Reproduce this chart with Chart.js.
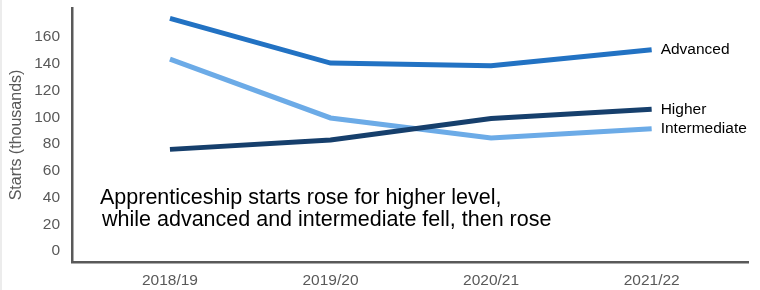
<!DOCTYPE html>
<html>
<head>
<meta charset="utf-8">
<script src="https://cdn.jsdelivr.net/npm/chart.js@4.4.1/dist/chart.umd.min.js"></script>
<style>
  html, body { margin: 0; padding: 0; background: #fff; }
  #wrap { position: relative; width: 760px; height: 290px; border-left: 2px solid #ececec; box-sizing: border-box; }
</style>
</head>
<body>
<div id="wrap"><canvas id="grafico" width="758" height="290"></canvas></div>
<script>
// Dados do gráfico (milhares de inícios)
const anos = ["2018/19", "2019/20", "2020/21", "2021/22"];
const advanced = [174, 140.5, 138.5, 150.5];
const higher = [76, 83, 99, 106];
const intermediate = [143.5, 99.5, 84.5, 91.5];
const yTicks = [0, 20, 40, 60, 80, 100, 120, 140, 160];
const nota = [
  "Apprenticeship starts rose for higher level,",
  "while advanced and intermediate fell, then rose",
];

const fonte = "'Liberation Sans', Arial, sans-serif";

function serie(label, valores, cor) {
  return {
    label: label,
    data: valores.map((v, i) => ({ x: i, y: v })),
    borderColor: cor,
    backgroundColor: cor,
    borderWidth: 5,
    pointRadius: 0,
    tension: 0,
  };
}

// Rótulos no fim de cada linha e o texto de nota
const rotulosPlugin = {
  id: "rotulos",
  afterDatasetsDraw(chart) {
    const ctx = chart.ctx;
    ctx.save();
    ctx.fillStyle = "#000";
    ctx.font = "15.5px " + fonte;
    ctx.textBaseline = "middle";
    ctx.textAlign = "left";
    chart.data.datasets.forEach((ds, i) => {
      const meta = chart.getDatasetMeta(i);
      const ultimo = meta.data[meta.data.length - 1];
      ctx.fillText(ds.label, ultimo.x + 9, ultimo.y);
    });
    ctx.font = "21.5px " + fonte;
    ctx.textBaseline = "alphabetic";
    ctx.fillText(nota[0], 98, 204);
    ctx.fillText(nota[1], 100, 226);
    ctx.restore();
  },
};

const grafico = document.getElementById("grafico");
const chart = new Chart(grafico, {
  type: "line",
  data: {
    datasets: [
      serie("Advanced", advanced, "#2272c3"),
      serie("Higher", higher, "#163f6c"),
      serie("Intermediate", intermediate, "#6cabe7"),
    ],
  },
  options: {
    responsive: false,
    animation: false,
    layout: { padding: { top: 8, right: 12, bottom: 0, left: 0 } },
    plugins: { legend: { display: false }, tooltip: { enabled: false } },
    scales: {
      x: {
        type: "linear",
        min: -0.61,
        max: 3.6,
        afterBuildTicks: (axis) => {
          axis.ticks = anos.map((_, i) => ({ value: i }));
        },
        afterFit: (axis) => {
          axis.height = 28;
          axis.paddingLeft = 0;
          axis.paddingRight = 0;
        },
        ticks: {
          callback: (v) => anos[v],
          color: "#595959",
          font: { family: fonte, size: 15.5 },
          padding: 9,
          maxRotation: 0,
        },
        grid: { display: false, drawTicks: false },
        border: { color: "#595959", width: 2.5 },
      },
      y: {
        min: -8.2,
        max: 181.7,
        afterBuildTicks: (axis) => {
          axis.ticks = yTicks.map((v) => ({ value: v }));
        },
        afterFit: (axis) => {
          axis.width = 70;
          axis.paddingTop = 0;
          axis.paddingBottom = 0;
        },
        ticks: {
          color: "#595959",
          font: { family: fonte, size: 15.5 },
          padding: 12,
        },
        title: {
          display: true,
          text: "Starts (thousands)",
          color: "#595959",
          font: { family: fonte, size: 16 },
          padding: { top: 5, bottom: 6 },
        },
        grid: { display: false, drawTicks: false },
        border: { color: "#595959", width: 2.5 },
      },
    },
  },
  plugins: [rotulosPlugin],
});
</script>
</body>
</html>
